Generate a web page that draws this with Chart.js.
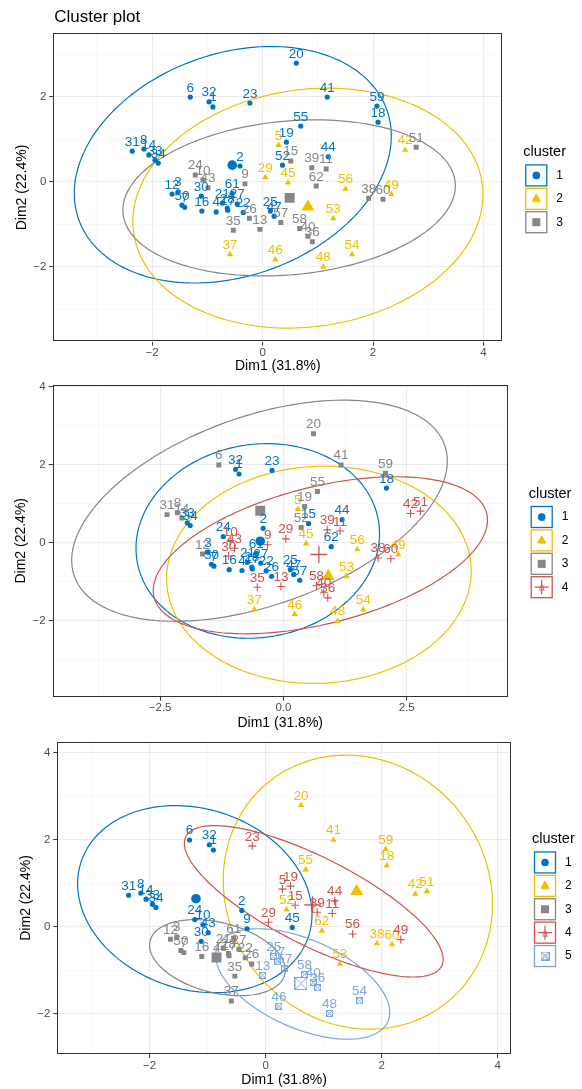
<!DOCTYPE html>
<html>
<head>
<meta charset="utf-8">
<script src="https://cdn.jsdelivr.net/npm/chart.js@4.4.1/dist/chart.umd.min.js"></script>
<style>
  body { margin: 0; background: #fff; width: 582px; height: 1089px; position: relative; overflow: hidden; }
  canvas { position: absolute; left: 0; }
</style>
</head>
<body>
<canvas id="k3" width="582" height="375" style="top:0"></canvas>
<canvas id="k4" width="582" height="357" style="top:375px"></canvas>
<canvas id="k5" width="582" height="357" style="top:732px"></canvas>
<script>
// observations (PCA coordinates, same for all three plots)
const obsLabels = ['1','2','3','4','5','6','7','8','9','10','11','12','13','14','15','16','17','18','19','20',
  '21','22','23','24','25','26','27','28','29','30','31','32','33','34','35','36','37','38','39','40',
  '41','42','43','44','45','46','47','48','49','50','51','52','53','54','55','56','57','58','59','60','61','62'];
const dim1 = [-0.90, -0.41, -1.53, -0.84, 0.29, -1.31, -1.41, -2.15, -0.32, -1.08,
  1.15, -1.64, -0.05, -2.06, 0.51, -1.10, -0.63, 2.09, 0.43, 0.61,
  -0.73, -0.35, -0.23, -1.22, 0.14, -0.24, -0.46, -0.64, 0.05, -1.11,
  -2.36, -0.97, -1.95, -1.89, -0.53, 0.90, -0.59, 1.92, 0.89, 0.82,
  1.17, 2.58, -0.99, 1.19, 0.46, 0.23, 0.21, 1.10, 2.33, -1.46,
  2.78, 0.36, 1.28, 1.62, 0.69, 1.50, 0.33, 0.67, 2.07, 2.18, -0.55, 0.97];
const dim2 = [1.76, 0.37, -0.24, -0.71, 0.86, 1.99, -0.60, 0.77, -0.05, 0.04,
  0.30, -0.29, -1.12, 0.63, 0.49, -0.69, -0.67, 1.40, 0.93, 2.79,
  -0.50, -0.72, 1.85, 0.16, -0.69, -0.86, -0.52, -0.62, 0.10, -0.34,
  0.72, 1.88, 0.51, 0.44, -1.14, -1.41, -1.71, -0.39, 0.33, -1.28,
  1.99, 0.75, -0.14, 0.59, -0.02, -1.83, -0.81, -2.00, -0.30, -0.55,
  0.81, 0.39, -0.86, -1.71, 1.31, -0.17, -0.96, -1.10, 1.78, -0.41, -0.27, -0.10];

// cluster membership per observation
const clusterK3 = [1,1,1,1,2,1,1,1,3,3, 3,1,3,1,3,1,1,1,1,1, 1,1,1,3,1,3,1,1,2,1,
  1,1,1,1,3,3,2,3,3,3, 1,2,3,1,2,2,1,2,2,1, 3,1,2,2,1,2,3,3,1,3, 1,3];
const clusterK4 = [1,1,1,1,2,3,1,3,4,4, 4,3,4,3,1,1,1,1,3,3, 1,1,1,1,1,1,1,1,4,4,
  3,1,1,1,4,4,2,4,4,4, 3,4,4,1,2,2,1,2,2,1, 4,3,2,2,3,2,1,4,3,4, 1,1];
const clusterK5 = [1,1,3,3,4,1,3,1,1,1, 4,3,5,1,4,3,3,2,4,2, 3,3,4,1,5,3,3,3,4,1,
  1,1,1,1,3,5,3,2,4,5, 2,2,1,4,1,5,5,5,4,3, 2,2,2,5,2,4,5,5,2,2, 3,2];

// cluster centres
const centreK3x = [-0.55, 0.82, 0.49];
const centreK3y = [0.39, -0.59, -0.38];
const centreK4x = [-0.47, 0.91, -0.47, 0.72];
const centreK4y = [0.04, -0.86, 0.82, -0.30];
const centreK5x = [-1.20, 1.57, -0.845, 0.81, 0.61];
const centreK5y = [0.64, 0.81, -0.71, 0.50, -1.31];

// ellipses: [centre x, centre y, half width, half height, phase deg]
const ellipsesK3 = [[-0.54, 0.40, 2.87, 2.78, 76], [0.82, -0.62, 3.17, 2.82, 83.5], [0.48, -0.38, 3.01, 1.835, 81]];
const ellipsesK4 = [[-0.52, 0.046, 2.47, 2.49, 85.6], [0.72, -0.82, 3.09, 2.78, 88],
  [-0.485, 0.82, 3.81, 2.83, 63.3], [0.75, -0.32, 3.39, 2.01, 63.4]];
const ellipsesK5 = [[-1.22, 0.63, 2.02, 2.15, 99.5], [1.59, 0.79, 2.32, 3.15, 95], [-0.83, -0.715, 1.17, 0.875, 109],
  [0.83, 0.58, 2.23, 1.74, 140], [0.64, -1.32, 1.50, 1.27, 121]];

// axis ticks
const xMajorK3 = [-2, 0, 2, 4], xMinorK3 = [-3, -1, 1, 3], xLabelsK3 = ['−2', '0', '2', '4'];
const yMajorK3 = [-2, 0, 2], yMinorK3 = [-3, -1, 1, 3], yLabelsK3 = ['−2', '0', '2'];
const xMajorK4 = [-2.5, 0, 2.5], xMinorK4 = [-3.75, -1.25, 1.25, 3.75], xLabelsK4 = ['−2.5', '0.0', '2.5'];
const yMajorK4 = [-2, 0, 2, 4], yMinorK4 = [-3, -1, 1, 3], yLabelsK4 = ['−2', '0', '2', '4'];
const xMajorK5 = [-2, 0, 2, 4], xMinorK5 = [-3, -1, 1, 3], xLabelsK5 = ['−2', '0', '2', '4'];
const yMajorK5 = [-2, 0, 2, 4], yMinorK5 = [-1, 1, 3], yLabelsK5 = ['−2', '0', '2', '4'];

const FONT = "'Liberation Sans', Arial, Helvetica, sans-serif";
const colors = ['#0073C2', '#EFC000', '#868686', '#CD534C', '#7AA6DC'];

function boxCross(size, color) {
  const c = document.createElement('canvas');
  c.width = c.height = size;
  const g = c.getContext('2d');
  g.strokeStyle = color;
  g.lineWidth = 1;
  g.strokeRect(0.5, 0.5, size - 1, size - 1);
  g.beginPath();
  g.moveTo(0.5, 0.5); g.lineTo(size - 0.5, size - 0.5);
  g.moveTo(size - 0.5, 0.5); g.lineTo(0.5, size - 0.5);
  g.stroke();
  return c;
}

const pointLook = [
  { small: { pointStyle: 'circle', pointRadius: 2.6 }, big: { pointStyle: 'circle', pointRadius: 4.8 } },
  { small: { pointStyle: 'triangle', pointRadius: 3.7 }, big: { pointStyle: 'triangle', pointRadius: 7.5 } },
  { small: { pointStyle: 'rect', pointRadius: 3.5 }, big: { pointStyle: 'rect', pointRadius: 7 } },
  { small: { pointStyle: 'cross', pointRadius: 4, pointBorderWidth: 1.1 }, big: { pointStyle: 'cross', pointRadius: 8.5, pointBorderWidth: 1.3 } },
  { small: { pointStyle: boxCross(7, colors[4]), pointRadius: 3.5 }, big: { pointStyle: boxCross(13, colors[4]), pointRadius: 6.5 } }
];

function buildDatasets(assign, cx, cy) {
  const k = cx.length;
  const sets = [];
  for (let c = 1; c <= k; c++) {
    const idx = [];
    assign.forEach((a, i) => { if (a === c) idx.push(i); });
    sets.push(Object.assign({
      data: idx.map(i => ({ x: dim1[i], y: dim2[i] })),
      names: idx.map(i => obsLabels[i]),
      cl: c,
      backgroundColor: colors[c - 1],
      borderColor: colors[c - 1],
      pointBorderWidth: 0
    }, pointLook[c - 1].small));
  }
  for (let c = 1; c <= k; c++) {
    sets.push(Object.assign({
      data: [{ x: cx[c - 1], y: cy[c - 1] }],
      cl: c,
      backgroundColor: colors[c - 1],
      borderColor: colors[c - 1],
      pointBorderWidth: 0
    }, pointLook[c - 1].big));
  }
  return sets;
}

function axis(min, max, major, minor, labels, title, size, isX, titlePad) {
  const all = major.concat(minor).sort((a, b) => a - b);
  const isMajor = c => c.tick && major.indexOf(c.tick.value) >= 0;
  return {
    type: 'linear', min: min, max: max,
    afterBuildTicks: s => { s.ticks = all.map(v => ({ value: v })); },
    afterFit: s => { if (isX) s.height = size; else s.width = size; },
    ticks: {
      autoSkip: false, maxRotation: 0, padding: isX ? 0.5 : 3,
      color: '#4D4D4D', font: { family: FONT, size: 11.5 },
      callback: v => { const i = major.indexOf(v); return i < 0 ? '' : labels[i]; }
    },
    grid: {
      color: c => isMajor(c) ? '#EBEBEB' : '#F3F3F3',
      lineWidth: c => isMajor(c) ? 1.1 : 0.6,
      tickColor: c => isMajor(c) ? '#333333' : 'rgba(0,0,0,0)',
      tickLength: 4, tickWidth: 1
    },
    border: { display: false },
    title: {
      display: true, text: title, color: '#000', font: { family: FONT, size: 14 },
      padding: isX ? { top: 0, bottom: 0 } : { top: titlePad, bottom: 0 }
    }
  };
}

function drawShape(ctx, c, x, y) {
  ctx.fillStyle = colors[c];
  ctx.strokeStyle = colors[c];
  ctx.beginPath();
  if (c === 0) { ctx.arc(x, y, 3.8, 0, Math.PI * 2); ctx.fill(); }
  else if (c === 1) { ctx.moveTo(x, y - 5.5); ctx.lineTo(x + 4.8, y + 2.8); ctx.lineTo(x - 4.8, y + 2.8); ctx.closePath(); ctx.fill(); }
  else if (c === 2) { ctx.rect(x - 4, y - 4, 8, 8); ctx.fill(); }
  else if (c === 3) { ctx.lineWidth = 1.2; ctx.moveTo(x - 7, y); ctx.lineTo(x + 7, y); ctx.moveTo(x, y - 7); ctx.lineTo(x, y + 7); ctx.stroke(); }
  else { ctx.drawImage(boxCross(9, colors[4]), x - 4.5, y - 4.5); }
}

function deco(ellipses, withTitle) {
  return {
    id: 'deco',
    beforeDatasetsDraw(chart) {
      const ctx = chart.ctx, a = chart.chartArea;
      const xs = chart.scales.x, ys = chart.scales.y;
      ctx.save();
      ctx.beginPath();
      ctx.rect(a.left, a.top, a.right - a.left, a.bottom - a.top);
      ctx.clip();
      ellipses.forEach((e, c) => {
        ctx.beginPath();
        for (let i = 0; i <= 180; i++) {
          const t = i / 180 * Math.PI * 2;
          const px = xs.getPixelForValue(e[0] + e[2] * Math.cos(t));
          const py = ys.getPixelForValue(e[1] + e[3] * Math.cos(t - e[4] * Math.PI / 180));
          if (i === 0) ctx.moveTo(px, py); else ctx.lineTo(px, py);
        }
        ctx.strokeStyle = colors[c];
        ctx.lineWidth = 1.2;
        ctx.stroke();
      });
      ctx.restore();
    },
    afterDatasetsDraw(chart) {
      const ctx = chart.ctx, a = chart.chartArea;
      ctx.save();
      ctx.font = '13.5px ' + FONT;
      ctx.textAlign = 'center';
      ctx.textBaseline = 'alphabetic';
      chart.data.datasets.forEach((ds, di) => {
        if (!ds.names) return;
        const meta = chart.getDatasetMeta(di);
        ctx.fillStyle = colors[ds.cl - 1];
        meta.data.forEach((pt, i) => ctx.fillText(ds.names[i], pt.x, pt.y - 5.5));
      });
      ctx.strokeStyle = '#333333';
      ctx.lineWidth = 1;
      ctx.strokeRect(Math.round(a.left) + 0.5, Math.round(a.top) + 0.5,
        Math.round(a.right - a.left) - 1, Math.round(a.bottom - a.top) - 1);
      ctx.restore();
    },
    afterDraw(chart) {
      const ctx = chart.ctx, a = chart.chartArea;
      const k = ellipses.length;
      const step = 23.4, side = 21;
      const x0 = a.right + 23;
      const top0 = (a.top + a.bottom) / 2 - k * step / 2 + 12;
      ctx.save();
      ctx.fillStyle = '#000';
      ctx.font = '14.5px ' + FONT;
      ctx.textAlign = 'left';
      ctx.textBaseline = 'alphabetic';
      ctx.fillText('cluster', x0 - 2, top0 - 8);
      for (let c = 0; c < k; c++) {
        const y = top0 + c * step;
        const cxp = x0 + side / 2 + 0.5, cyp = y + side / 2 + 0.5;
        ctx.fillStyle = '#fff';
        ctx.fillRect(x0, y, side, side);
        ctx.strokeStyle = colors[c];
        ctx.lineWidth = 1.3;
        ctx.strokeRect(x0 + 0.5, y + 0.5, side, side);
        ctx.globalAlpha = 0.8;
        ctx.fillStyle = colors[c];
        ctx.font = '11px ' + FONT;
        ctx.textAlign = 'center';
        ctx.textBaseline = 'middle';
        ctx.fillText('a', cxp, cyp + 1);
        ctx.globalAlpha = 1;
        drawShape(ctx, c, cxp, cyp);
        ctx.fillStyle = '#000';
        ctx.font = '12px ' + FONT;
        ctx.textAlign = 'left';
        ctx.fillText(String(c + 1), x0 + 31, cyp);
      }
      if (withTitle) {
        ctx.fillStyle = '#000';
        ctx.font = '17px ' + FONT;
        ctx.textAlign = 'left';
        ctx.textBaseline = 'alphabetic';
        ctx.fillText('Cluster plot', a.left + 1, 21.7);
      }
      ctx.restore();
    }
  };
}

function panel(id, p) {
  new Chart(document.getElementById(id), {
    type: 'scatter',
    data: { datasets: buildDatasets(p.assign, p.cx, p.cy) },
    options: {
      responsive: false, animation: false, events: [],
      layout: { padding: { left: 0, top: p.top, right: 582 - p.right, bottom: 0 } },
      plugins: { legend: { display: false }, tooltip: { enabled: false }, title: { display: false } },
      scales: {
        x: axis(p.xmin, p.xmax, p.xMajor, p.xMinor, p.xLabels, 'Dim1 (31.8%)', p.h - p.bottom, true, 0),
        y: axis(p.ymin, p.ymax, p.yMajor, p.yMinor, p.yLabels, 'Dim2 (22.4%)', p.left, false, p.left - 39.9)
      }
    },
    plugins: [deco(p.ellipses, p.title)]
  });
}

panel('k3', { assign: clusterK3, cx: centreK3x, cy: centreK3y, ellipses: ellipsesK3, title: true,
  left: 53.3, top: 33.3, right: 502.3, bottom: 341.7, h: 375,
  xmin: -3.79, xmax: 4.34, ymin: -3.76, ymax: 3.49,
  xMajor: xMajorK3, xMinor: xMinorK3, xLabels: xLabelsK3, yMajor: yMajorK3, yMinor: yMinorK3, yLabels: yLabelsK3 });

panel('k4', { assign: clusterK4, cx: centreK4x, cy: centreK4y, ellipses: ellipsesK4, title: false,
  left: 52.7, top: 9, right: 507.7, bottom: 321.7, h: 357,
  xmin: -4.68, xmax: 4.55, ymin: -3.94, ymax: 4.04,
  xMajor: xMajorK4, xMinor: xMinorK4, xLabels: xLabelsK4, yMajor: yMajorK4, yMinor: yMinorK4, yLabels: yLabelsK4 });

panel('k5', { assign: clusterK5, cx: centreK5x, cy: centreK5y, ellipses: ellipsesK5, title: false,
  left: 57.3, top: 9, right: 511, bottom: 322, h: 357,
  xmin: -3.59, xmax: 4.23, ymin: -2.93, ymax: 4.245,
  xMajor: xMajorK5, xMinor: xMinorK5, xLabels: xLabelsK5, yMajor: yMajorK5, yMinor: yMinorK5, yLabels: yLabelsK5 });
</script>
</body>
</html>
